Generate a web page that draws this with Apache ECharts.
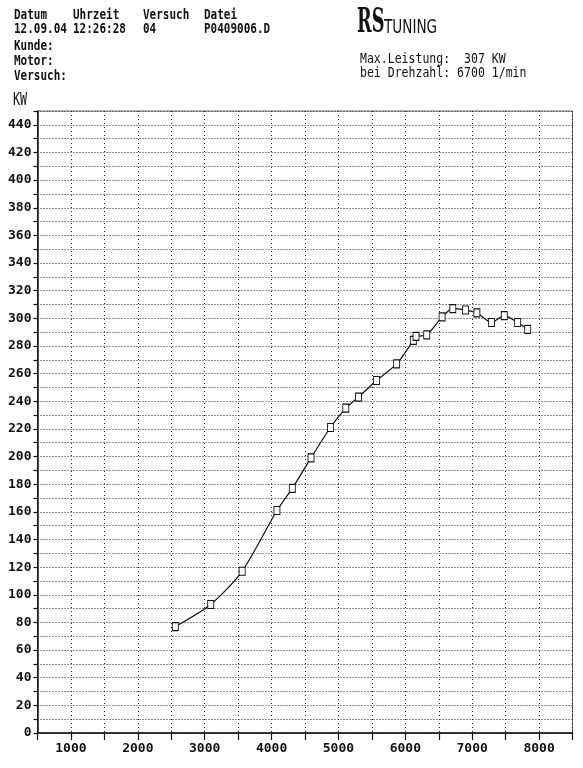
<!DOCTYPE html>
<html>
<head>
<meta charset="utf-8">
<script src="https://cdn.jsdelivr.net/npm/echarts@6/dist/echarts.min.js"></script>
<style>
html,body{margin:0;padding:0;background:#fff;}
#c{width:583px;height:768px;}
</style>
</head>
<body>
<div id="c"></div>
<script>
// Data
var rpm = [2560, 3090, 3560, 4080, 4310, 4590, 4880, 5110, 5300, 5570, 5870, 6120, 6160, 6320, 6550, 6710, 6900, 7070, 7290, 7480, 7680, 7830];
var kw  = [77, 93, 117, 161, 177, 199, 221, 235, 243, 255, 267, 284, 287, 288, 301, 307, 306, 304, 297, 302, 297, 292];

var headerCols = ["Datum", "Uhrzeit", "Versuch", "Datei"];
var headerVals = ["12.09.04", "12:26:28", "04", "P0409006.D"];
var headerRows = ["Kunde:", "Motor:", "Versuch:"];
var maxLines = ["Max.Leistung:  307 KW", "bei Drehzahl: 6700 1/min"];
var yUnit = "KW";

var MONO = "'DejaVu Sans Mono', 'Liberation Mono', monospace";
var chart = echarts.init(document.getElementById('c'), null, {renderer: 'canvas'});

function txt(t, x, y, font, sx, sy) {
  return {type: 'text', x: x, y: y, scaleX: sx || 1, scaleY: sy || 1, z: 10,
    style: {text: t, font: font, fill: '#111', verticalAlign: 'top', align: 'left'}};
}

var colX = [14, 73, 143, 204];
var graphics = [];
headerCols.forEach(function (t, i) { graphics.push(txt(t, colX[i], 9, 'bold 11px ' + MONO, 1, 1.2)); });
headerVals.forEach(function (t, i) { graphics.push(txt(t, colX[i], 23, 'bold 11px ' + MONO, 1, 1.2)); });
headerRows.forEach(function (t, i) { graphics.push(txt(t, 14, 40 + i * 15, 'bold 11px ' + MONO, 1, 1.2)); });
graphics.push(txt(yUnit, 13, 92, '13px ' + MONO, 0.9, 1.3));
graphics.push(txt('RS', 357, 6, 'bold 34px "DejaVu Serif", serif', 0.52, 1));
graphics.push(txt('TUNING', 384, 18, '20px "DejaVu Sans", sans-serif', 0.68, 1));
maxLines.forEach(function (t, i) { graphics.push(txt(t, 360, 53 + i * 14, '12px ' + MONO, 0.96, 1.15)); });

var pts = rpm.map(function (r, i) { return [r, kw[i]]; });

chart.setOption({
  backgroundColor: '#fff',
  animation: false,
  graphic: graphics,
  grid: {left: 37.5, right: 10.5, top: 111, bottom: 35, show: true, borderColor: '#666', borderWidth: 1},
  xAxis: {
    type: 'value', min: 500, max: 8500, interval: 500,
    axisLine: {show: true, onZero: false, lineStyle: {color: '#111', width: 1.5}},
    axisTick: {show: true, inside: false, length: 7, lineStyle: {color: '#111', width: 1.2}},
    axisLabel: {
      margin: 9, color: '#111', fontFamily: MONO, fontWeight: 'bold', fontSize: 13,
      formatter: function (v) { return (v % 1000 === 0) ? String(v) : ''; },
      showMinLabel: true, showMaxLabel: true
    },
    splitLine: {show: true, lineStyle: {color: '#222', width: 1, type: [1, 3]}}
  },
  yAxis: {
    type: 'value', min: 0, max: 450, interval: 10,
    axisLine: {show: true, onZero: false, lineStyle: {color: '#111', width: 1.5}},
    axisTick: {show: true, inside: false, length: 4, lineStyle: {color: '#111', width: 1.2}},
    axisLabel: {
      margin: 6, color: '#111', fontFamily: MONO, fontWeight: 'bold', fontSize: 13,
      formatter: function (v) { return (v % 20 === 0 && v <= 440) ? String(v) : ''; }
    },
    splitLine: {show: true, lineStyle: {color: '#222', width: 1, type: [1, 2]}}
  },
  series: [{
    type: 'line',
    data: pts,
    smooth: 0.25,
    symbol: 'rect',
    symbolSize: [6, 8],
    showAllSymbol: true,
    lineStyle: {color: '#111', width: 1.2},
    itemStyle: {color: '#fff', borderColor: '#111', borderWidth: 1}
  }]
});
</script>
</body>
</html>
